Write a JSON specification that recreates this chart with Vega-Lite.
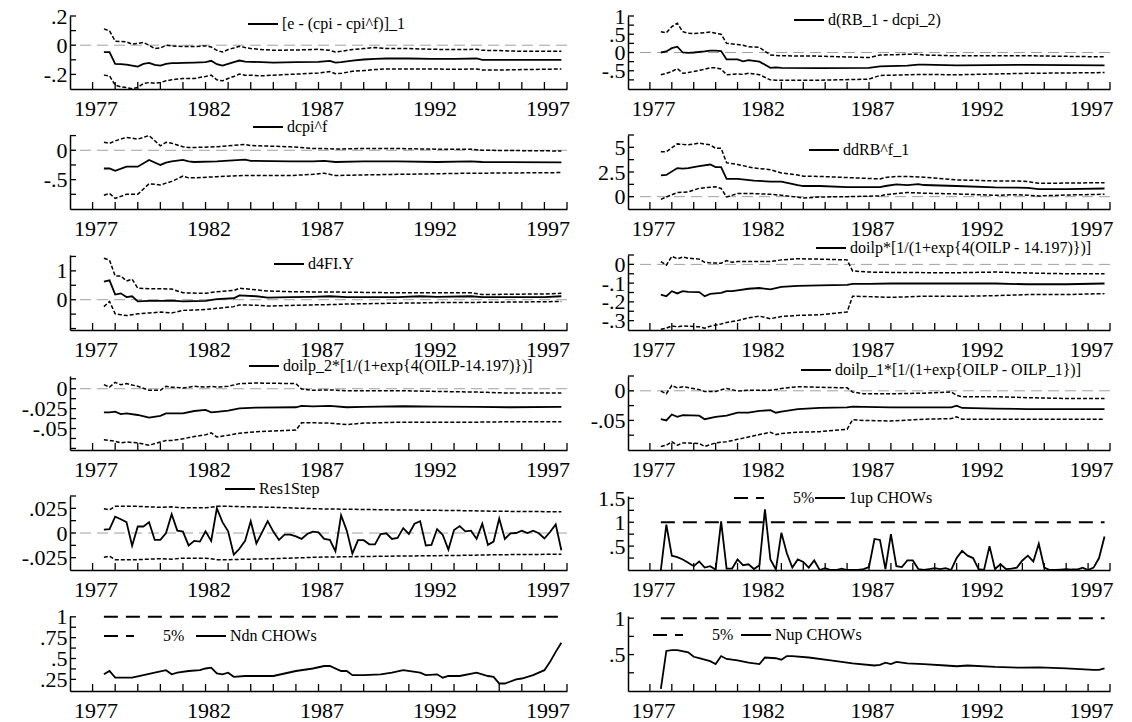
{
  "$schema": "https://vega.github.io/schema/vega-lite/v6.json",
  "background": "white",
  "padding": {"left": 21, "top": 4, "right": 4, "bottom": 4},
  "bounds": "flush",
  "columns": 2,
  "align": "each",
  "spacing": {"row": 46, "column": 61},
  "resolve": {
    "scale": {"x": "independent", "y": "independent", "color": "independent", "strokeDash": "independent"},
    "legend": {"color": "independent", "strokeDash": "independent"}
  },
  "config": {
    "view": {"stroke": null},
    "font": "Liberation Serif",
    "axis": {"grid": false, "domainColor": "black", "domainWidth": 1.5, "labelFont": "Liberation Serif", "labelFontSize": 22, "labelColor": "black", "labelOverlap": false, "labelFlush": false, "labelBound": false},
    "rule": {"color": "black", "strokeWidth": 1.3},
    "legend": {"orient": "none", "symbolType": "stroke", "symbolSize": 900, "symbolStrokeWidth": 2, "symbolStrokeColor": "black", "labelFont": "Liberation Serif", "labelFontSize": 16, "labelColor": "black", "labelOffset": 3, "labelLimit": 0, "padding": 0, "rowPadding": 0}
  },
  "concat": [
    {
      "width": 497, "height": 73,
      "resolve": {"axis": {"x": "independent", "y": "independent"}},
      "data": {"values": [
        {"t":1977.5,"c":-0.047,"u":0.112,"l":-0.205},{"t":1977.75,"c":-0.047,"u":0.098,"l":-0.21},{"t":1978.0,"c":-0.128,"u":0.028,"l":-0.274},{"t":1978.25,"c":-0.13,"u":0.025,"l":-0.285},{"t":1978.5,"c":-0.133,"u":0.023,"l":-0.29},{"t":1978.75,"c":-0.14,"u":0.007,"l":-0.298},{"t":1979.0,"c":-0.147,"u":0.012,"l":-0.29},{"t":1979.25,"c":-0.128,"u":0.019,"l":-0.263},{"t":1979.5,"c":-0.121,"u":0.0,"l":-0.256},{"t":1979.75,"c":-0.135,"u":-0.023,"l":-0.261},{"t":1980.0,"c":-0.14,"u":-0.019,"l":-0.256},{"t":1980.25,"c":-0.128,"u":0.0,"l":-0.244},{"t":1980.5,"c":-0.123,"u":-0.005,"l":-0.237},{"t":1980.75,"c":-0.123,"u":-0.007,"l":-0.232},{"t":1981.0,"c":-0.121,"u":-0.009,"l":-0.228},{"t":1981.5,"c":-0.119,"u":-0.009,"l":-0.228},{"t":1982.0,"c":-0.116,"u":-0.005,"l":-0.214},{"t":1982.25,"c":-0.107,"u":-0.012,"l":-0.205},{"t":1982.5,"c":-0.13,"u":-0.035,"l":-0.237},{"t":1982.75,"c":-0.14,"u":-0.047,"l":-0.244},{"t":1983.0,"c":-0.128,"u":-0.03,"l":-0.228},{"t":1983.25,"c":-0.116,"u":-0.019,"l":-0.214},{"t":1983.5,"c":-0.105,"u":-0.007,"l":-0.198},{"t":1983.75,"c":-0.112,"u":-0.016,"l":-0.205},{"t":1984.0,"c":-0.114,"u":-0.023,"l":-0.205},{"t":1984.5,"c":-0.116,"u":-0.03,"l":-0.21},{"t":1985.0,"c":-0.119,"u":-0.035,"l":-0.205},{"t":1986.0,"c":-0.116,"u":-0.033,"l":-0.198},{"t":1987.0,"c":-0.114,"u":-0.028,"l":-0.191},{"t":1987.5,"c":-0.107,"u":-0.035,"l":-0.181},{"t":1987.75,"c":-0.119,"u":-0.047,"l":-0.195},{"t":1988.0,"c":-0.116,"u":-0.042,"l":-0.193},{"t":1988.5,"c":-0.105,"u":-0.03,"l":-0.179},{"t":1989.0,"c":-0.098,"u":-0.023,"l":-0.174},{"t":1989.5,"c":-0.093,"u":-0.016,"l":-0.167},{"t":1990.0,"c":-0.091,"u":-0.023,"l":-0.163},{"t":1991.0,"c":-0.091,"u":-0.023,"l":-0.163},{"t":1992.0,"c":-0.093,"u":-0.028,"l":-0.163},{"t":1993.0,"c":-0.093,"u":-0.03,"l":-0.165},{"t":1994.0,"c":-0.091,"u":-0.028,"l":-0.163},{"t":1994.25,"c":-0.1,"u":-0.035,"l":-0.17},{"t":1995.0,"c":-0.1,"u":-0.037,"l":-0.17},{"t":1996.0,"c":-0.1,"u":-0.042,"l":-0.167},{"t":1997.75,"c":-0.1,"u":-0.042,"l":-0.163}
      ]},
      "layer": [
        {"data": {"values": [{}]}, "mark": {"type": "rule", "color": "#a0a0a0", "strokeDash": [11, 6], "strokeWidth": 1},
         "encoding": {"y": {"datum": 0, "type": "quantitative", "axis": null}}},
        {"mark": {"type": "line", "color": "black", "strokeWidth": 1.5, "strokeDash": [4, 2]},
         "encoding": {
           "x": {"field": "t", "type": "quantitative", "title": null, "scale": {"domain": [1976, 1998], "nice": false, "zero": false},
             "axis": {"orient": "bottom", "values": [1977, 1982, 1987, 1992, 1997], "format": "d", "ticks": false, "labelPadding": 9, "labelOffset": 3, "labelOverlap": false}},
           "y": {"field": "u", "type": "quantitative", "title": null, "scale": {"domain": [-0.3, 0.2], "nice": false, "zero": false},
             "axis": {"orient": "left", "values": [-0.2, 0, 0.2], "ticks": false, "labelPadding": 3, "labelOverlap": false, "labelExpr": "replace(toString(datum.value), '0.', '.')"}}}},
        {"mark": {"type": "line", "color": "black", "strokeWidth": 1.5, "strokeDash": [4, 2]},
         "encoding": {"x": {"field": "t", "type": "quantitative", "axis": null}, "y": {"field": "l", "type": "quantitative", "axis": null}}},
        {"data": {"values": [{"yr":1977},{"yr":1978},{"yr":1979},{"yr":1980},{"yr":1981},{"yr":1982},{"yr":1983},{"yr":1984},{"yr":1985},{"yr":1986},{"yr":1987},{"yr":1988},{"yr":1989},{"yr":1990},{"yr":1991},{"yr":1992},{"yr":1993},{"yr":1994},{"yr":1995},{"yr":1996},{"yr":1997},{"yr":1998}]},
         "mark": {"type": "rule"},
         "encoding": {"x": {"field": "yr", "type": "quantitative", "axis": null}, "y": {"datum": -0.3, "type": "quantitative", "axis": null}, "y2": {"datum": -0.252}}},
        {"data": {"values": [{"yv":-0.2},{"yv":-0.1},{"yv":0},{"yv":0.1},{"yv":0.2}]},
         "mark": {"type": "rule"},
         "encoding": {"y": {"field": "yv", "type": "quantitative", "axis": null}, "x": {"datum": 1976, "type": "quantitative", "axis": null}, "x2": {"datum": 1976.266}}},
        {"mark": {"type": "line", "strokeWidth": 1.8},
         "encoding": {"x": {"field": "t", "type": "quantitative", "axis": null}, "y": {"field": "c", "type": "quantitative", "axis": null},
           "color": {"datum": "[e - (cpi - cpi^f)]_1", "scale": {"range": ["black"]}, "legend": {"title": null, "legendX": 177, "legendY": -8}}}}
      ]
    },
    {
      "width": 482, "height": 73,
      "resolve": {"axis": {"x": "independent", "y": "independent"}},
      "data": {"values": [
        {"t":1977.5,"c":0.0,"u":0.57,"l":-0.61},{"t":1977.75,"c":0.03,"u":0.54,"l":-0.57},{"t":1978.0,"c":0.12,"u":0.71,"l":-0.52},{"t":1978.25,"c":0.16,"u":0.8,"l":-0.44},{"t":1978.5,"c":0.0,"u":0.57,"l":-0.57},{"t":1978.75,"c":-0.01,"u":0.53,"l":-0.55},{"t":1979.0,"c":0.0,"u":0.52,"l":-0.52},{"t":1979.5,"c":0.03,"u":0.54,"l":-0.46},{"t":1979.75,"c":0.05,"u":0.56,"l":-0.42},{"t":1980.0,"c":0.05,"u":0.53,"l":-0.42},{"t":1980.25,"c":0.04,"u":0.5,"l":-0.45},{"t":1980.5,"c":-0.19,"u":0.25,"l":-0.61},{"t":1981.0,"c":-0.19,"u":0.22,"l":-0.59},{"t":1981.25,"c":-0.24,"u":0.2,"l":-0.6},{"t":1981.5,"c":-0.21,"u":0.16,"l":-0.57},{"t":1982.0,"c":-0.25,"u":0.14,"l":-0.61},{"t":1982.5,"c":-0.42,"u":-0.07,"l":-0.75},{"t":1982.75,"c":-0.41,"u":-0.08,"l":-0.76},{"t":1983.0,"c":-0.42,"u":-0.09,"l":-0.76},{"t":1984.75,"c":-0.43,"u":-0.1,"l":-0.76},{"t":1987.0,"c":-0.42,"u":-0.14,"l":-0.73},{"t":1987.5,"c":-0.38,"u":-0.07,"l":-0.63},{"t":1988.75,"c":-0.36,"u":-0.05,"l":-0.61},{"t":1989.25,"c":-0.33,"u":-0.05,"l":-0.6},{"t":1989.5,"c":-0.33,"u":-0.07,"l":-0.6},{"t":1991.0,"c":-0.35,"u":-0.09,"l":-0.61},{"t":1994.25,"c":-0.34,"u":-0.09,"l":-0.57},{"t":1997.75,"c":-0.35,"u":-0.12,"l":-0.55}
      ]},
      "layer": [
        {"data": {"values": [{}]}, "mark": {"type": "rule", "color": "#a0a0a0", "strokeDash": [11, 6], "strokeWidth": 1},
         "encoding": {"y": {"datum": 0, "type": "quantitative", "axis": null}}},
        {"mark": {"type": "line", "color": "black", "strokeWidth": 1.5, "strokeDash": [4, 2]},
         "encoding": {
           "x": {"field": "t", "type": "quantitative", "title": null, "scale": {"domain": [1976, 1998], "nice": false, "zero": false},
             "axis": {"orient": "bottom", "values": [1977, 1982, 1987, 1992, 1997], "format": "d", "ticks": false, "labelPadding": 9, "labelOffset": 3, "labelOverlap": false}},
           "y": {"field": "u", "type": "quantitative", "title": null, "scale": {"domain": [-1.0, 1.0], "nice": false, "zero": false},
             "axis": {"orient": "left", "values": [-0.5, 0, 0.5, 1], "ticks": false, "labelPadding": 3, "labelOverlap": false, "labelExpr": "replace(toString(datum.value), '0.', '.')"}}}},
        {"mark": {"type": "line", "color": "black", "strokeWidth": 1.5, "strokeDash": [4, 2]},
         "encoding": {"x": {"field": "t", "type": "quantitative", "axis": null}, "y": {"field": "l", "type": "quantitative", "axis": null}}},
        {"data": {"values": [{"yr":1977},{"yr":1978},{"yr":1979},{"yr":1980},{"yr":1981},{"yr":1982},{"yr":1983},{"yr":1984},{"yr":1985},{"yr":1986},{"yr":1987},{"yr":1988},{"yr":1989},{"yr":1990},{"yr":1991},{"yr":1992},{"yr":1993},{"yr":1994},{"yr":1995},{"yr":1996},{"yr":1997},{"yr":1998}]},
         "mark": {"type": "rule"},
         "encoding": {"x": {"field": "yr", "type": "quantitative", "axis": null}, "y": {"datum": -1.0, "type": "quantitative", "axis": null}, "y2": {"datum": -0.808}}},
        {"data": {"values": [{"yv":-0.75},{"yv":-0.5},{"yv":-0.25},{"yv":0},{"yv":0.25},{"yv":0.5},{"yv":0.75},{"yv":1}]},
         "mark": {"type": "rule"},
         "encoding": {"y": {"field": "yv", "type": "quantitative", "axis": null}, "x": {"datum": 1976, "type": "quantitative", "axis": null}, "x2": {"datum": 1976.274}}},
        {"mark": {"type": "line", "strokeWidth": 1.8},
         "encoding": {"x": {"field": "t", "type": "quantitative", "axis": null}, "y": {"field": "c", "type": "quantitative", "axis": null},
           "color": {"datum": "d(RB_1 - dcpi_2)", "scale": {"range": ["black"]}, "legend": {"title": null, "legendX": 165, "legendY": -12}}}}
      ]
    },
    {
      "width": 497, "height": 74,
      "resolve": {"axis": {"x": "independent", "y": "independent"}},
      "data": {"values": [
        {"t":1977.5,"c":-0.31,"u":0.135,"l":-0.765},{"t":1977.75,"c":-0.31,"u":0.118,"l":-0.735},{"t":1978.0,"c":-0.35,"u":0.16,"l":-0.82},{"t":1978.5,"c":-0.28,"u":0.22,"l":-0.75},{"t":1979.0,"c":-0.28,"u":0.19,"l":-0.75},{"t":1979.5,"c":-0.165,"u":0.25,"l":-0.57},{"t":1980.0,"c":-0.25,"u":0.076,"l":-0.59},{"t":1980.25,"c":-0.21,"u":0.135,"l":-0.56},{"t":1980.5,"c":-0.19,"u":0.12,"l":-0.53},{"t":1981.0,"c":-0.165,"u":0.06,"l":-0.44},{"t":1981.25,"c":-0.19,"u":0.047,"l":-0.47},{"t":1981.5,"c":-0.2,"u":0.047,"l":-0.47},{"t":1982.5,"c":-0.19,"u":0.06,"l":-0.45},{"t":1983.75,"c":-0.16,"u":0.1,"l":-0.43},{"t":1984.0,"c":-0.18,"u":0.08,"l":-0.43},{"t":1985.75,"c":-0.19,"u":0.06,"l":-0.43},{"t":1986.75,"c":-0.19,"u":0.03,"l":-0.41},{"t":1987.25,"c":-0.18,"u":0.03,"l":-0.39},{"t":1987.75,"c":-0.2,"u":0.02,"l":-0.43},{"t":1989.0,"c":-0.19,"u":0.03,"l":-0.42},{"t":1990.5,"c":-0.19,"u":0.03,"l":-0.41},{"t":1992.25,"c":-0.2,"u":0.018,"l":-0.4},{"t":1993.75,"c":-0.19,"u":0.018,"l":-0.39},{"t":1994.25,"c":-0.2,"u":0.0,"l":-0.39},{"t":1997.75,"c":-0.206,"u":-0.012,"l":-0.38}
      ]},
      "layer": [
        {"data": {"values": [{}]}, "mark": {"type": "rule", "color": "#a0a0a0", "strokeDash": [11, 6], "strokeWidth": 1},
         "encoding": {"y": {"datum": 0, "type": "quantitative", "axis": null}}},
        {"mark": {"type": "line", "color": "black", "strokeWidth": 1.5, "strokeDash": [4, 2]},
         "encoding": {
           "x": {"field": "t", "type": "quantitative", "title": null, "scale": {"domain": [1976, 1998], "nice": false, "zero": false},
             "axis": {"orient": "bottom", "values": [1977, 1982, 1987, 1992, 1997], "format": "d", "ticks": false, "labelPadding": 9, "labelOffset": 3, "labelOverlap": false}},
           "y": {"field": "u", "type": "quantitative", "title": null, "scale": {"domain": [-1.0, 0.26], "nice": false, "zero": false},
             "axis": {"orient": "left", "values": [-0.5, 0], "ticks": false, "labelPadding": 3, "labelOverlap": false, "labelExpr": "replace(toString(datum.value), '0.', '.')"}}}},
        {"mark": {"type": "line", "color": "black", "strokeWidth": 1.5, "strokeDash": [4, 2]},
         "encoding": {"x": {"field": "t", "type": "quantitative", "axis": null}, "y": {"field": "l", "type": "quantitative", "axis": null}}},
        {"data": {"values": [{"yr":1977},{"yr":1978},{"yr":1979},{"yr":1980},{"yr":1981},{"yr":1982},{"yr":1983},{"yr":1984},{"yr":1985},{"yr":1986},{"yr":1987},{"yr":1988},{"yr":1989},{"yr":1990},{"yr":1991},{"yr":1992},{"yr":1993},{"yr":1994},{"yr":1995},{"yr":1996},{"yr":1997},{"yr":1998}]},
         "mark": {"type": "rule"},
         "encoding": {"x": {"field": "yr", "type": "quantitative", "axis": null}, "y": {"datum": -1.0, "type": "quantitative", "axis": null}, "y2": {"datum": -0.881}}},
        {"data": {"values": [{"yv":-0.75},{"yv":-0.5},{"yv":-0.25},{"yv":0},{"yv":0.25}]},
         "mark": {"type": "rule"},
         "encoding": {"y": {"field": "yv", "type": "quantitative", "axis": null}, "x": {"datum": 1976, "type": "quantitative", "axis": null}, "x2": {"datum": 1976.266}}},
        {"mark": {"type": "line", "strokeWidth": 1.8},
         "encoding": {"x": {"field": "t", "type": "quantitative", "axis": null}, "y": {"field": "c", "type": "quantitative", "axis": null},
           "color": {"datum": "dcpi^f", "scale": {"range": ["black"]}, "legend": {"title": null, "legendX": 182, "legendY": -24}}}}
      ]
    },
    {
      "width": 482, "height": 74,
      "resolve": {"axis": {"x": "independent", "y": "independent"}},
      "data": {"values": [
        {"t":1977.5,"c":2.15,"u":4.55,"l":-0.28},{"t":1977.75,"c":2.2,"u":4.55,"l":-0.03},{"t":1978.25,"c":2.9,"u":5.35,"l":0.42},{"t":1978.5,"c":2.85,"u":5.3,"l":0.45},{"t":1978.75,"c":2.9,"u":5.25,"l":0.49},{"t":1979.25,"c":3.1,"u":5.42,"l":0.85},{"t":1979.75,"c":3.26,"u":5.25,"l":0.95},{"t":1980.0,"c":3.0,"u":4.9,"l":1.0},{"t":1980.25,"c":3.0,"u":4.9,"l":0.83},{"t":1980.5,"c":1.8,"u":3.44,"l":-0.03},{"t":1981.0,"c":1.8,"u":3.26,"l":0.31},{"t":1981.75,"c":1.63,"u":2.9,"l":0.31},{"t":1982.5,"c":1.53,"u":2.74,"l":0.24},{"t":1983.0,"c":1.53,"u":2.4,"l":0.14},{"t":1983.75,"c":1.18,"u":2.2,"l":-0.05},{"t":1984.0,"c":1.08,"u":2.08,"l":-0.14},{"t":1984.75,"c":1.08,"u":2.05,"l":-0.03},{"t":1986.0,"c":0.97,"u":1.94,"l":0.0},{"t":1987.5,"c":0.97,"u":1.8,"l":0.07},{"t":1987.75,"c":1.08,"u":1.95,"l":0.2},{"t":1988.25,"c":1.25,"u":2.05,"l":0.31},{"t":1988.75,"c":1.18,"u":2.05,"l":0.42},{"t":1989.25,"c":1.28,"u":2.0,"l":0.38},{"t":1989.5,"c":1.18,"u":1.98,"l":0.35},{"t":1991.0,"c":1.08,"u":1.7,"l":0.28},{"t":1992.75,"c":0.94,"u":1.6,"l":0.14},{"t":1993.75,"c":0.92,"u":1.58,"l":0.2},{"t":1994.25,"c":0.9,"u":1.53,"l":0.14},{"t":1994.75,"c":0.76,"u":1.35,"l":0.07},{"t":1996.0,"c":0.76,"u":1.38,"l":0.17},{"t":1997.75,"c":0.83,"u":1.42,"l":0.24}
      ]},
      "layer": [
        {"data": {"values": [{}]}, "mark": {"type": "rule", "color": "#a0a0a0", "strokeDash": [11, 6], "strokeWidth": 1},
         "encoding": {"y": {"datum": 0, "type": "quantitative", "axis": null}}},
        {"mark": {"type": "line", "color": "black", "strokeWidth": 1.5, "strokeDash": [4, 2]},
         "encoding": {
           "x": {"field": "t", "type": "quantitative", "title": null, "scale": {"domain": [1976, 1998], "nice": false, "zero": false},
             "axis": {"orient": "bottom", "values": [1977, 1982, 1987, 1992, 1997], "format": "d", "ticks": false, "labelPadding": 9, "labelOffset": 3, "labelOverlap": false}},
           "y": {"field": "u", "type": "quantitative", "title": null, "scale": {"domain": [-1.25, 6.25], "nice": false, "zero": false},
             "axis": {"orient": "left", "values": [0, 2.5, 5], "ticks": false, "labelPadding": 3, "labelOverlap": false, "labelExpr": "replace(toString(datum.value), '0.', '.')"}}}},
        {"mark": {"type": "line", "color": "black", "strokeWidth": 1.5, "strokeDash": [4, 2]},
         "encoding": {"x": {"field": "t", "type": "quantitative", "axis": null}, "y": {"field": "l", "type": "quantitative", "axis": null}}},
        {"data": {"values": [{"yr":1977},{"yr":1978},{"yr":1979},{"yr":1980},{"yr":1981},{"yr":1982},{"yr":1983},{"yr":1984},{"yr":1985},{"yr":1986},{"yr":1987},{"yr":1988},{"yr":1989},{"yr":1990},{"yr":1991},{"yr":1992},{"yr":1993},{"yr":1994},{"yr":1995},{"yr":1996},{"yr":1997},{"yr":1998}]},
         "mark": {"type": "rule"},
         "encoding": {"x": {"field": "yr", "type": "quantitative", "axis": null}, "y": {"datum": -1.25, "type": "quantitative", "axis": null}, "y2": {"datum": -0.541}}},
        {"data": {"values": [{"yv":0},{"yv":1.25},{"yv":2.5},{"yv":3.75},{"yv":5},{"yv":6.25}]},
         "mark": {"type": "rule"},
         "encoding": {"y": {"field": "yv", "type": "quantitative", "axis": null}, "x": {"datum": 1976, "type": "quantitative", "axis": null}, "x2": {"datum": 1976.274}}},
        {"mark": {"type": "line", "strokeWidth": 1.8},
         "encoding": {"x": {"field": "t", "type": "quantitative", "axis": null}, "y": {"field": "c", "type": "quantitative", "axis": null},
           "color": {"datum": "ddRB^f_1", "scale": {"range": ["black"]}, "legend": {"title": null, "legendX": 180, "legendY": -1}}}}
      ]
    },
    {
      "width": 497, "height": 75,
      "resolve": {"axis": {"x": "independent", "y": "independent"}},
      "data": {"values": [
        {"t":1977.5,"c":0.63,"u":1.44,"l":-0.24},{"t":1977.75,"c":0.67,"u":1.37,"l":-0.06},{"t":1978.0,"c":0.18,"u":0.82,"l":-0.49},{"t":1978.25,"c":0.22,"u":0.82,"l":-0.52},{"t":1978.5,"c":0.09,"u":0.65,"l":-0.55},{"t":1978.75,"c":0.12,"u":0.71,"l":-0.52},{"t":1979.0,"c":-0.06,"u":0.4,"l":-0.49},{"t":1979.5,"c":-0.04,"u":0.38,"l":-0.46},{"t":1980.0,"c":-0.04,"u":0.38,"l":-0.43},{"t":1980.5,"c":-0.03,"u":0.37,"l":-0.46},{"t":1981.0,"c":-0.06,"u":0.24,"l":-0.37},{"t":1982.0,"c":-0.04,"u":0.22,"l":-0.34},{"t":1982.5,"c":0.02,"u":0.28,"l":-0.3},{"t":1983.25,"c":0.05,"u":0.32,"l":-0.24},{"t":1983.5,"c":0.15,"u":0.4,"l":-0.18},{"t":1984.25,"c":0.12,"u":0.34,"l":-0.19},{"t":1984.75,"c":0.07,"u":0.3,"l":-0.22},{"t":1985.75,"c":0.09,"u":0.28,"l":-0.2},{"t":1986.75,"c":0.1,"u":0.27,"l":-0.18},{"t":1987.5,"c":0.12,"u":0.27,"l":-0.17},{"t":1988.25,"c":0.09,"u":0.26,"l":-0.15},{"t":1990.5,"c":0.09,"u":0.24,"l":-0.12},{"t":1991.5,"c":0.12,"u":0.24,"l":-0.11},{"t":1992.25,"c":0.1,"u":0.24,"l":-0.1},{"t":1993.75,"c":0.12,"u":0.24,"l":-0.1},{"t":1994.25,"c":0.09,"u":0.18,"l":-0.09},{"t":1997.0,"c":0.09,"u":0.2,"l":-0.07},{"t":1997.75,"c":0.12,"u":0.22,"l":-0.06}
      ]},
      "layer": [
        {"data": {"values": [{}]}, "mark": {"type": "rule", "color": "#a0a0a0", "strokeDash": [11, 6], "strokeWidth": 1},
         "encoding": {"y": {"datum": 0, "type": "quantitative", "axis": null}}},
        {"mark": {"type": "line", "color": "black", "strokeWidth": 1.5, "strokeDash": [4, 2]},
         "encoding": {
           "x": {"field": "t", "type": "quantitative", "title": null, "scale": {"domain": [1976, 1998], "nice": false, "zero": false},
             "axis": {"orient": "bottom", "values": [1977, 1982, 1987, 1992, 1997], "format": "d", "ticks": false, "labelPadding": 9, "labelOffset": 3, "labelOverlap": false}},
           "y": {"field": "u", "type": "quantitative", "title": null, "scale": {"domain": [-1.05, 1.55], "nice": false, "zero": false},
             "axis": {"orient": "left", "values": [0, 1], "ticks": false, "labelPadding": 3, "labelOverlap": false, "labelExpr": "replace(toString(datum.value), '0.', '.')"}}}},
        {"mark": {"type": "line", "color": "black", "strokeWidth": 1.5, "strokeDash": [4, 2]},
         "encoding": {"x": {"field": "t", "type": "quantitative", "axis": null}, "y": {"field": "l", "type": "quantitative", "axis": null}}},
        {"data": {"values": [{"yr":1977},{"yr":1978},{"yr":1979},{"yr":1980},{"yr":1981},{"yr":1982},{"yr":1983},{"yr":1984},{"yr":1985},{"yr":1986},{"yr":1987},{"yr":1988},{"yr":1989},{"yr":1990},{"yr":1991},{"yr":1992},{"yr":1993},{"yr":1994},{"yr":1995},{"yr":1996},{"yr":1997},{"yr":1998}]},
         "mark": {"type": "rule"},
         "encoding": {"x": {"field": "yr", "type": "quantitative", "axis": null}, "y": {"datum": -1.05, "type": "quantitative", "axis": null}, "y2": {"datum": -0.807}}},
        {"data": {"values": [{"yv":-1},{"yv":-0.5},{"yv":0},{"yv":0.5},{"yv":1},{"yv":1.5}]},
         "mark": {"type": "rule"},
         "encoding": {"y": {"field": "yv", "type": "quantitative", "axis": null}, "x": {"datum": 1976, "type": "quantitative", "axis": null}, "x2": {"datum": 1976.266}}},
        {"mark": {"type": "line", "strokeWidth": 1.8},
         "encoding": {"x": {"field": "t", "type": "quantitative", "axis": null}, "y": {"field": "c", "type": "quantitative", "axis": null},
           "color": {"datum": "d4FI.Y", "scale": {"range": ["black"]}, "legend": {"title": null, "legendX": 203, "legendY": -7}}}}
      ]
    },
    {
      "width": 482, "height": 75,
      "resolve": {"axis": {"x": "independent", "y": "independent"}},
      "data": {"values": [
        {"t":1977.5,"c":-0.161,"u":0.015,"l":-0.346},{"t":1977.75,"c":-0.17,"u":-0.004,"l":-0.34},{"t":1978.0,"c":-0.143,"u":0.043,"l":-0.328},{"t":1978.25,"c":-0.155,"u":0.03,"l":-0.333},{"t":1978.5,"c":-0.143,"u":0.039,"l":-0.328},{"t":1978.75,"c":-0.147,"u":0.033,"l":-0.33},{"t":1979.25,"c":-0.148,"u":0.028,"l":-0.333},{"t":1979.5,"c":-0.17,"u":0.011,"l":-0.34},{"t":1979.75,"c":-0.157,"u":0.008,"l":-0.33},{"t":1980.25,"c":-0.152,"u":0.006,"l":-0.318},{"t":1980.5,"c":-0.143,"u":0.02,"l":-0.31},{"t":1980.75,"c":-0.143,"u":0.011,"l":-0.305},{"t":1981.0,"c":-0.139,"u":0.015,"l":-0.3},{"t":1981.5,"c":-0.13,"u":0.015,"l":-0.285},{"t":1982.0,"c":-0.126,"u":0.015,"l":-0.276},{"t":1982.5,"c":-0.133,"u":0.015,"l":-0.29},{"t":1983.0,"c":-0.12,"u":0.024,"l":-0.278},{"t":1983.75,"c":-0.115,"u":0.03,"l":-0.272},{"t":1984.75,"c":-0.112,"u":0.028,"l":-0.269},{"t":1986.0,"c":-0.109,"u":0.024,"l":-0.254},{"t":1986.25,"c":-0.104,"u":-0.035,"l":-0.17},{"t":1987.0,"c":-0.104,"u":-0.041,"l":-0.172},{"t":1988.0,"c":-0.102,"u":-0.043,"l":-0.176},{"t":1989.5,"c":-0.102,"u":-0.044,"l":-0.17},{"t":1991.25,"c":-0.102,"u":-0.044,"l":-0.17},{"t":1992.75,"c":-0.102,"u":-0.041,"l":-0.167},{"t":1994.25,"c":-0.106,"u":-0.046,"l":-0.161},{"t":1996.0,"c":-0.106,"u":-0.05,"l":-0.161},{"t":1997.75,"c":-0.102,"u":-0.05,"l":-0.156}
      ]},
      "layer": [
        {"data": {"values": [{}]}, "mark": {"type": "rule", "color": "#a0a0a0", "strokeDash": [11, 6], "strokeWidth": 1},
         "encoding": {"y": {"datum": 0, "type": "quantitative", "axis": null}}},
        {"mark": {"type": "line", "color": "black", "strokeWidth": 1.5, "strokeDash": [4, 2]},
         "encoding": {
           "x": {"field": "t", "type": "quantitative", "title": null, "scale": {"domain": [1976, 1998], "nice": false, "zero": false},
             "axis": {"orient": "bottom", "values": [1977, 1982, 1987, 1992, 1997], "format": "d", "ticks": false, "labelPadding": 9, "labelOffset": 3, "labelOverlap": false}},
           "y": {"field": "u", "type": "quantitative", "title": null, "scale": {"domain": [-0.35, 0.05], "nice": false, "zero": false},
             "axis": {"orient": "left", "values": [-0.3, -0.2, -0.1, 0], "ticks": false, "labelPadding": 3, "labelOverlap": false, "labelExpr": "replace(toString(datum.value), '0.', '.')"}}}},
        {"mark": {"type": "line", "color": "black", "strokeWidth": 1.5, "strokeDash": [4, 2]},
         "encoding": {"x": {"field": "t", "type": "quantitative", "axis": null}, "y": {"field": "l", "type": "quantitative", "axis": null}}},
        {"data": {"values": [{"yr":1977},{"yr":1978},{"yr":1979},{"yr":1980},{"yr":1981},{"yr":1982},{"yr":1983},{"yr":1984},{"yr":1985},{"yr":1986},{"yr":1987},{"yr":1988},{"yr":1989},{"yr":1990},{"yr":1991},{"yr":1992},{"yr":1993},{"yr":1994},{"yr":1995},{"yr":1996},{"yr":1997},{"yr":1998}]},
         "mark": {"type": "rule"},
         "encoding": {"x": {"field": "yr", "type": "quantitative", "axis": null}, "y": {"datum": -0.35, "type": "quantitative", "axis": null}, "y2": {"datum": -0.3127}}},
        {"data": {"values": [{"yv":-0.3},{"yv":-0.25},{"yv":-0.2},{"yv":-0.15},{"yv":-0.1},{"yv":-0.05},{"yv":0},{"yv":0.05}]},
         "mark": {"type": "rule"},
         "encoding": {"y": {"field": "yv", "type": "quantitative", "axis": null}, "x": {"datum": 1976, "type": "quantitative", "axis": null}, "x2": {"datum": 1976.274}}},
        {"mark": {"type": "line", "strokeWidth": 1.8},
         "encoding": {"x": {"field": "t", "type": "quantitative", "axis": null}, "y": {"field": "c", "type": "quantitative", "axis": null},
           "color": {"datum": "doilp*[1/(1+exp{4(OILP - 14.197)})]", "scale": {"range": ["black"]}, "legend": {"title": null, "legendX": 187, "legendY": -23}}}}
      ]
    },
    {
      "width": 497, "height": 74,
      "resolve": {"axis": {"x": "independent", "y": "independent"}},
      "data": {"values": [
        {"t":1977.5,"c":-0.0297,"u":0.0051,"l":-0.064},{"t":1977.75,"c":-0.0297,"u":0.002,"l":-0.065},{"t":1978.0,"c":-0.0288,"u":0.008,"l":-0.066},{"t":1978.25,"c":-0.0318,"u":0.005,"l":-0.068},{"t":1978.5,"c":-0.031,"u":0.0064,"l":-0.067},{"t":1979.0,"c":-0.033,"u":0.003,"l":-0.068},{"t":1979.5,"c":-0.0364,"u":-0.002,"l":-0.071},{"t":1980.0,"c":-0.034,"u":-0.002,"l":-0.067},{"t":1980.25,"c":-0.031,"u":0.003,"l":-0.065},{"t":1980.5,"c":-0.031,"u":0.002,"l":-0.065},{"t":1981.0,"c":-0.031,"u":0.001,"l":-0.063},{"t":1981.5,"c":-0.028,"u":0.003,"l":-0.06},{"t":1982.0,"c":-0.0267,"u":0.002,"l":-0.058},{"t":1982.25,"c":-0.0297,"u":0.003,"l":-0.0555},{"t":1982.5,"c":-0.029,"u":0.002,"l":-0.0606},{"t":1983.0,"c":-0.0275,"u":0.003,"l":-0.0585},{"t":1983.5,"c":-0.0246,"u":0.0064,"l":-0.056},{"t":1984.25,"c":-0.0237,"u":0.0072,"l":-0.054},{"t":1986.0,"c":-0.0233,"u":0.0064,"l":-0.052},{"t":1986.25,"c":-0.0216,"u":-0.0004,"l":-0.0428},{"t":1986.75,"c":-0.0222,"u":-0.002,"l":-0.0428},{"t":1987.5,"c":-0.0216,"u":-0.0015,"l":-0.0432},{"t":1988.25,"c":-0.0233,"u":-0.0025,"l":-0.045},{"t":1989.0,"c":-0.0229,"u":-0.0025,"l":-0.0432},{"t":1990.75,"c":-0.022,"u":-0.0025,"l":-0.042},{"t":1992.25,"c":-0.0224,"u":-0.0034,"l":-0.042},{"t":1994.0,"c":-0.0229,"u":-0.0042,"l":-0.042},{"t":1995.5,"c":-0.0233,"u":-0.0055,"l":-0.0415},{"t":1997.75,"c":-0.0229,"u":-0.0055,"l":-0.0415}
      ]},
      "layer": [
        {"data": {"values": [{}]}, "mark": {"type": "rule", "color": "#a0a0a0", "strokeDash": [11, 6], "strokeWidth": 1},
         "encoding": {"y": {"datum": 0, "type": "quantitative", "axis": null}}},
        {"mark": {"type": "line", "color": "black", "strokeWidth": 1.5, "strokeDash": [4, 2]},
         "encoding": {
           "x": {"field": "t", "type": "quantitative", "title": null, "scale": {"domain": [1976, 1998], "nice": false, "zero": false},
             "axis": {"orient": "bottom", "values": [1977, 1982, 1987, 1992, 1997], "format": "d", "ticks": false, "labelPadding": 9, "labelOffset": 3, "labelOverlap": false}},
           "y": {"field": "u", "type": "quantitative", "title": null, "scale": {"domain": [-0.077, 0.016], "nice": false, "zero": false},
             "axis": {"orient": "left", "values": [-0.05, -0.025, 0], "ticks": false, "labelPadding": 3, "labelOverlap": false, "labelExpr": "replace(toString(datum.value), '0.', '.')"}}}},
        {"mark": {"type": "line", "color": "black", "strokeWidth": 1.5, "strokeDash": [4, 2]},
         "encoding": {"x": {"field": "t", "type": "quantitative", "axis": null}, "y": {"field": "l", "type": "quantitative", "axis": null}}},
        {"data": {"values": [{"yr":1977},{"yr":1978},{"yr":1979},{"yr":1980},{"yr":1981},{"yr":1982},{"yr":1983},{"yr":1984},{"yr":1985},{"yr":1986},{"yr":1987},{"yr":1988},{"yr":1989},{"yr":1990},{"yr":1991},{"yr":1992},{"yr":1993},{"yr":1994},{"yr":1995},{"yr":1996},{"yr":1997},{"yr":1998}]},
         "mark": {"type": "rule"},
         "encoding": {"x": {"field": "yr", "type": "quantitative", "axis": null}, "y": {"datum": -0.077, "type": "quantitative", "axis": null}, "y2": {"datum": -0.0682}}},
        {"data": {"values": [{"yv":-0.075},{"yv":-0.0625},{"yv":-0.05},{"yv":-0.0375},{"yv":-0.025},{"yv":-0.0125},{"yv":0},{"yv":0.0125}]},
         "mark": {"type": "rule"},
         "encoding": {"y": {"field": "yv", "type": "quantitative", "axis": null}, "x": {"datum": 1976, "type": "quantitative", "axis": null}, "x2": {"datum": 1976.266}}},
        {"mark": {"type": "line", "strokeWidth": 1.8},
         "encoding": {"x": {"field": "t", "type": "quantitative", "axis": null}, "y": {"field": "c", "type": "quantitative", "axis": null},
           "color": {"datum": "doilp_2*[1/(1+exp{4(OILP-14.197)})]", "scale": {"range": ["black"]}, "legend": {"title": null, "legendX": 178, "legendY": -26}}}}
      ]
    },
    {
      "width": 482, "height": 74,
      "resolve": {"axis": {"x": "independent", "y": "independent"}},
      "data": {"values": [
        {"t":1977.5,"c":-0.048,"u":-0.0006,"l":-0.094},{"t":1977.75,"c":-0.05,"u":-0.005,"l":-0.092},{"t":1978.0,"c":-0.04,"u":0.009,"l":-0.086},{"t":1978.25,"c":-0.044,"u":0.005,"l":-0.092},{"t":1978.5,"c":-0.041,"u":0.007,"l":-0.088},{"t":1979.25,"c":-0.042,"u":0.002,"l":-0.089},{"t":1979.5,"c":-0.048,"u":-0.001,"l":-0.094},{"t":1980.0,"c":-0.044,"u":-0.001,"l":-0.088},{"t":1980.5,"c":-0.042,"u":0.004,"l":-0.086},{"t":1981.0,"c":-0.037,"u":-0.0003,"l":-0.082},{"t":1981.5,"c":-0.037,"u":0.001,"l":-0.078},{"t":1982.0,"c":-0.034,"u":0.001,"l":-0.074},{"t":1982.5,"c":-0.0326,"u":0.001,"l":-0.07},{"t":1982.75,"c":-0.037,"u":0.002,"l":-0.074},{"t":1983.0,"c":-0.035,"u":0.004,"l":-0.072},{"t":1983.75,"c":-0.031,"u":0.007,"l":-0.07},{"t":1984.75,"c":-0.029,"u":0.006,"l":-0.069},{"t":1986.0,"c":-0.028,"u":0.005,"l":-0.065},{"t":1986.25,"c":-0.0267,"u":-0.002,"l":-0.049},{"t":1986.75,"c":-0.027,"u":-0.005,"l":-0.05},{"t":1988.0,"c":-0.028,"u":-0.005,"l":-0.051},{"t":1989.5,"c":-0.028,"u":-0.004,"l":-0.048},{"t":1990.75,"c":-0.028,"u":-0.002,"l":-0.047},{"t":1991.0,"c":-0.025,"u":-0.0076,"l":-0.044},{"t":1991.25,"c":-0.029,"u":-0.01,"l":-0.048},{"t":1992.75,"c":-0.03,"u":-0.01,"l":-0.048},{"t":1994.25,"c":-0.031,"u":-0.0116,"l":-0.048},{"t":1996.0,"c":-0.031,"u":-0.013,"l":-0.048},{"t":1997.75,"c":-0.031,"u":-0.013,"l":-0.048}
      ]},
      "layer": [
        {"data": {"values": [{}]}, "mark": {"type": "rule", "color": "#a0a0a0", "strokeDash": [11, 6], "strokeWidth": 1},
         "encoding": {"y": {"datum": 0, "type": "quantitative", "axis": null}}},
        {"mark": {"type": "line", "color": "black", "strokeWidth": 1.5, "strokeDash": [4, 2]},
         "encoding": {
           "x": {"field": "t", "type": "quantitative", "title": null, "scale": {"domain": [1976, 1998], "nice": false, "zero": false},
             "axis": {"orient": "bottom", "values": [1977, 1982, 1987, 1992, 1997], "format": "d", "ticks": false, "labelPadding": 9, "labelOffset": 3, "labelOverlap": false}},
           "y": {"field": "u", "type": "quantitative", "title": null, "scale": {"domain": [-0.1, 0.025], "nice": false, "zero": false},
             "axis": {"orient": "left", "values": [-0.05, 0], "ticks": false, "labelPadding": 3, "labelOverlap": false, "labelExpr": "replace(toString(datum.value), '0.', '.')"}}}},
        {"mark": {"type": "line", "color": "black", "strokeWidth": 1.5, "strokeDash": [4, 2]},
         "encoding": {"x": {"field": "t", "type": "quantitative", "axis": null}, "y": {"field": "l", "type": "quantitative", "axis": null}}},
        {"data": {"values": [{"yr":1977},{"yr":1978},{"yr":1979},{"yr":1980},{"yr":1981},{"yr":1982},{"yr":1983},{"yr":1984},{"yr":1985},{"yr":1986},{"yr":1987},{"yr":1988},{"yr":1989},{"yr":1990},{"yr":1991},{"yr":1992},{"yr":1993},{"yr":1994},{"yr":1995},{"yr":1996},{"yr":1997},{"yr":1998}]},
         "mark": {"type": "rule"},
         "encoding": {"x": {"field": "yr", "type": "quantitative", "axis": null}, "y": {"datum": -0.1, "type": "quantitative", "axis": null}, "y2": {"datum": -0.0882}}},
        {"data": {"values": [{"yv":-0.075},{"yv":-0.05},{"yv":-0.025},{"yv":0},{"yv":0.025}]},
         "mark": {"type": "rule"},
         "encoding": {"y": {"field": "yv", "type": "quantitative", "axis": null}, "x": {"datum": 1976, "type": "quantitative", "axis": null}, "x2": {"datum": 1976.274}}},
        {"mark": {"type": "line", "strokeWidth": 1.8},
         "encoding": {"x": {"field": "t", "type": "quantitative", "axis": null}, "y": {"field": "c", "type": "quantitative", "axis": null},
           "color": {"datum": "doilp_1*[1/(1+exp{OILP - OILP_1})]", "scale": {"range": ["black"]}, "legend": {"title": null, "legendX": 172, "legendY": -22}}}}
      ]
    },
    {
      "width": 497, "height": 74,
      "resolve": {"axis": {"x": "independent", "y": "independent"}},
      "data": {"values": [
        {"t":1977.5,"u":0.0245,"l":-0.0245},{"t":1977.75,"u":0.0235,"l":-0.0235},{"t":1978.0,"u":0.027,"l":-0.027},{"t":1979.0,"u":0.027,"l":-0.027},{"t":1980.0,"u":0.026,"l":-0.026},{"t":1980.5,"u":0.0265,"l":-0.0265},{"t":1981.0,"u":0.0255,"l":-0.0255},{"t":1982.0,"u":0.0255,"l":-0.0255},{"t":1982.5,"u":0.027,"l":-0.027},{"t":1983.0,"u":0.027,"l":-0.027},{"t":1985.0,"u":0.026,"l":-0.026},{"t":1987.0,"u":0.0245,"l":-0.0245},{"t":1990.0,"u":0.0235,"l":-0.0235},{"t":1993.0,"u":0.0228,"l":-0.0228},{"t":1995.0,"u":0.022,"l":-0.022},{"t":1997.75,"u":0.0215,"l":-0.0215}
      ]},
      "layer": [
        {"data": {"values": [{}]}, "mark": {"type": "rule", "color": "#a0a0a0", "strokeDash": [11, 6], "strokeWidth": 1},
         "encoding": {"y": {"datum": 0, "type": "quantitative", "axis": null}}},
        {"mark": {"type": "line", "color": "black", "strokeWidth": 1.5, "strokeDash": [4, 2]},
         "encoding": {
           "x": {"field": "t", "type": "quantitative", "title": null, "scale": {"domain": [1976, 1998], "nice": false, "zero": false},
             "axis": {"orient": "bottom", "values": [1977, 1982, 1987, 1992, 1997], "format": "d", "ticks": false, "labelPadding": 9, "labelOffset": 3, "labelOverlap": false}},
           "y": {"field": "u", "type": "quantitative", "title": null, "scale": {"domain": [-0.0375, 0.0375], "nice": false, "zero": false},
             "axis": {"orient": "left", "values": [-0.025, 0, 0.025], "ticks": false, "labelPadding": 3, "labelOverlap": false, "labelExpr": "replace(toString(datum.value), '0.', '.')"}}}},
        {"mark": {"type": "line", "color": "black", "strokeWidth": 1.5, "strokeDash": [4, 2]},
         "encoding": {"x": {"field": "t", "type": "quantitative", "axis": null}, "y": {"field": "l", "type": "quantitative", "axis": null}}},
        {"data": {"values": [{"yr":1977},{"yr":1978},{"yr":1979},{"yr":1980},{"yr":1981},{"yr":1982},{"yr":1983},{"yr":1984},{"yr":1985},{"yr":1986},{"yr":1987},{"yr":1988},{"yr":1989},{"yr":1990},{"yr":1991},{"yr":1992},{"yr":1993},{"yr":1994},{"yr":1995},{"yr":1996},{"yr":1997},{"yr":1998}]},
         "mark": {"type": "rule"},
         "encoding": {"x": {"field": "yr", "type": "quantitative", "axis": null}, "y": {"datum": -0.0375, "type": "quantitative", "axis": null}, "y2": {"datum": -0.0304}}},
        {"data": {"values": [{"yv":-0.025},{"yv":-0.0125},{"yv":0},{"yv":0.0125},{"yv":0.025},{"yv":0.0375}]},
         "mark": {"type": "rule"},
         "encoding": {"y": {"field": "yv", "type": "quantitative", "axis": null}, "x": {"datum": 1976, "type": "quantitative", "axis": null}, "x2": {"datum": 1976.266}}},
        {"data": {"values": [
          {"t":1977.5,"r":0.0035},{"t":1977.75,"r":0.004},{"t":1978.0,"r":0.0165},{"t":1978.25,"r":0.014},{"t":1978.5,"r":0.011},{"t":1978.75,"r":-0.013},{"t":1979.0,"r":0.0066},{"t":1979.25,"r":0.0066},{"t":1979.5,"r":0.011},{"t":1979.75,"r":-0.007},{"t":1980.0,"r":-0.007},{"t":1980.25,"r":0},{"t":1980.5,"r":0.019},{"t":1980.75,"r":0.0024},{"t":1981.0,"r":0.0014},{"t":1981.25,"r":-0.0126},{"t":1981.5,"r":-0.008},{"t":1981.75,"r":-0.0087},{"t":1982.0,"r":0.0017},{"t":1982.25,"r":-0.008},{"t":1982.5,"r":0.025},{"t":1982.75,"r":0.011},{"t":1983.0,"r":0.0017},{"t":1983.25,"r":-0.022},{"t":1983.5,"r":-0.016},{"t":1983.75,"r":-0.008},{"t":1984.0,"r":0.012},{"t":1984.25,"r":-0.0105},{"t":1984.5,"r":0.0007},{"t":1984.75,"r":0.012},{"t":1985.0,"r":0.0014},{"t":1985.25,"r":-0.007},{"t":1985.5,"r":-0.0017},{"t":1985.75,"r":-0.0017},{"t":1986.0,"r":-0.0035},{"t":1986.25,"r":-0.006},{"t":1986.5,"r":-0.001},{"t":1986.75,"r":0.0014},{"t":1987.0,"r":0.0007},{"t":1987.25,"r":-0.006},{"t":1987.5,"r":-0.007},{"t":1987.75,"r":-0.0185},{"t":1988.0,"r":0.018},{"t":1988.25,"r":0.0024},{"t":1988.5,"r":-0.021},{"t":1988.75,"r":-0.0073},{"t":1989.0,"r":-0.0073},{"t":1989.25,"r":-0.0115},{"t":1989.5,"r":-0.0115},{"t":1989.75,"r":-0.001},{"t":1990.0,"r":-0.0003},{"t":1990.25,"r":-0.006},{"t":1990.5,"r":-0.005},{"t":1990.75,"r":0.0049},{"t":1991.0,"r":-0.001},{"t":1991.25,"r":0.0094},{"t":1991.5,"r":0.012},{"t":1991.75,"r":-0.0126},{"t":1992.0,"r":-0.012},{"t":1992.25,"r":0.004},{"t":1992.5,"r":-0.002},{"t":1992.75,"r":-0.0168},{"t":1993.0,"r":0.0031},{"t":1993.25,"r":0.007},{"t":1993.5,"r":0.0017},{"t":1993.75,"r":0.0024},{"t":1994.0,"r":-0.006},{"t":1994.25,"r":0.0094},{"t":1994.5,"r":-0.012},{"t":1994.75,"r":-0.0087},{"t":1995.0,"r":0.0147},{"t":1995.25,"r":-0.006},{"t":1995.5,"r":-0.0003},{"t":1995.75,"r":0},{"t":1996.0,"r":0.0024},{"t":1996.25,"r":0},{"t":1996.5,"r":0.0024},{"t":1996.75,"r":-0.0003},{"t":1997.0,"r":-0.0056},{"t":1997.25,"r":0.001},{"t":1997.5,"r":0.0087},{"t":1997.75,"r":-0.0175}
         ]},
         "mark": {"type": "line", "strokeWidth": 1.8},
         "encoding": {"x": {"field": "t", "type": "quantitative", "axis": null}, "y": {"field": "r", "type": "quantitative", "axis": null},
           "color": {"datum": "Res1Step", "scale": {"range": ["black"]}, "legend": {"title": null, "legendX": 154, "legendY": -23}}}}
      ]
    },
    {
      "width": 482, "height": 74,
      "resolve": {"axis": {"x": "independent", "y": "independent"}},
      "data": {"values": [
        {"t":1977.5,"v":0,"k":1},{"t":1977.75,"v":0.95,"k":1},{"t":1978.0,"v":0.3,"k":1},{"t":1978.25,"v":0.27,"k":1},{"t":1978.5,"v":0.22,"k":1},{"t":1978.75,"v":0.15,"k":1},{"t":1979.0,"v":0.08,"k":1},{"t":1979.25,"v":0.18,"k":1},{"t":1979.5,"v":0.05,"k":1},{"t":1979.75,"v":0.08,"k":1},{"t":1980.0,"v":0.01,"k":1},{"t":1980.25,"v":1.02,"k":1},{"t":1980.5,"v":0.03,"k":1},{"t":1980.75,"v":0.03,"k":1},{"t":1981.0,"v":0.22,"k":1},{"t":1981.25,"v":0.1,"k":1},{"t":1981.5,"v":0.12,"k":1},{"t":1981.75,"v":0.02,"k":1},{"t":1982.0,"v":0.1,"k":1},{"t":1982.25,"v":1.27,"k":1},{"t":1982.5,"v":0.22,"k":1},{"t":1982.75,"v":0.01,"k":1},{"t":1983.0,"v":0.78,"k":1},{"t":1983.25,"v":0.35,"k":1},{"t":1983.5,"v":0.05,"k":1},{"t":1983.75,"v":0.22,"k":1},{"t":1984.0,"v":0.17,"k":1},{"t":1984.25,"v":0.05,"k":1},{"t":1984.5,"v":0.2,"k":1},{"t":1984.75,"v":0,"k":1},{"t":1985.0,"v":0.04,"k":1},{"t":1985.25,"v":0,"k":1},{"t":1985.5,"v":0,"k":1},{"t":1985.75,"v":0.03,"k":1},{"t":1986.0,"v":0,"k":1},{"t":1986.25,"v":0,"k":1},{"t":1986.5,"v":0,"k":1},{"t":1986.75,"v":0.02,"k":1},{"t":1987.0,"v":0.06,"k":1},{"t":1987.25,"v":0.65,"k":1},{"t":1987.5,"v":0.63,"k":1},{"t":1987.75,"v":0.02,"k":1},{"t":1988.0,"v":0.75,"k":1},{"t":1988.25,"v":0.08,"k":1},{"t":1988.5,"v":0.06,"k":1},{"t":1988.75,"v":0.2,"k":1},{"t":1989.0,"v":0.2,"k":1},{"t":1989.25,"v":0.02,"k":1},{"t":1989.5,"v":0,"k":1},{"t":1989.75,"v":0.02,"k":1},{"t":1990.0,"v":0.04,"k":1},{"t":1990.25,"v":0.02,"k":1},{"t":1990.5,"v":0.04,"k":1},{"t":1990.75,"v":0,"k":1},{"t":1991.0,"v":0.25,"k":1},{"t":1991.25,"v":0.4,"k":1},{"t":1991.5,"v":0.3,"k":1},{"t":1991.75,"v":0.25,"k":1},{"t":1992.0,"v":0.02,"k":1},{"t":1992.25,"v":0,"k":1},{"t":1992.5,"v":0.5,"k":1},{"t":1992.75,"v":0.02,"k":1},{"t":1993.0,"v":0.12,"k":1},{"t":1993.25,"v":0.02,"k":1},{"t":1993.5,"v":0.03,"k":1},{"t":1993.75,"v":0.05,"k":1},{"t":1994.0,"v":0.2,"k":1},{"t":1994.25,"v":0.3,"k":1},{"t":1994.5,"v":0.18,"k":1},{"t":1994.75,"v":0.55,"k":1},{"t":1995.0,"v":0.05,"k":1},{"t":1995.25,"v":0,"k":1},{"t":1995.5,"v":0,"k":1},{"t":1995.75,"v":0.01,"k":1},{"t":1996.0,"v":0.02,"k":1},{"t":1996.25,"v":0.01,"k":1},{"t":1996.5,"v":0.01,"k":1},{"t":1996.75,"v":0.05,"k":1},{"t":1997.0,"v":0,"k":1},{"t":1997.25,"v":0.05,"k":1},{"t":1997.5,"v":0.25,"k":1},{"t":1997.75,"v":0.7,"k":1}
      ]},
      "layer": [
        {"mark": {"type": "line", "color": "black", "strokeWidth": 2},
         "encoding": {
           "x": {"field": "t", "type": "quantitative", "title": null, "scale": {"domain": [1976, 1998], "nice": false, "zero": false},
             "axis": {"orient": "bottom", "values": [1977, 1982, 1987, 1992, 1997], "format": "d", "ticks": false, "labelPadding": 9, "labelOffset": 3, "labelOverlap": false}},
           "y": {"field": "k", "type": "quantitative", "title": null, "scale": {"domain": [0, 1.55], "nice": false, "zero": false},
             "axis": {"orient": "left", "values": [0.5, 1, 1.5], "ticks": false, "labelPadding": 3, "labelOverlap": false, "labelExpr": "replace(toString(datum.value), '0.', '.')"}},
           "strokeDash": {"datum": "5%", "scale": {"range": [[14, 8]]}, "legend": {"title": null, "legendX": 105, "legendY": -14, "labelOffset": 28}}}},
        {"data": {"values": [{"yr":1977},{"yr":1978},{"yr":1979},{"yr":1980},{"yr":1981},{"yr":1982},{"yr":1983},{"yr":1984},{"yr":1985},{"yr":1986},{"yr":1987},{"yr":1988},{"yr":1989},{"yr":1990},{"yr":1991},{"yr":1992},{"yr":1993},{"yr":1994},{"yr":1995},{"yr":1996},{"yr":1997},{"yr":1998}]},
         "mark": {"type": "rule"},
         "encoding": {"x": {"field": "yr", "type": "quantitative", "axis": null}, "y": {"datum": 0, "type": "quantitative", "axis": null}, "y2": {"datum": 0.147}}},
        {"data": {"values": [{"yv":0.25},{"yv":0.5},{"yv":0.75},{"yv":1},{"yv":1.25},{"yv":1.5}]},
         "mark": {"type": "rule"},
         "encoding": {"y": {"field": "yv", "type": "quantitative", "axis": null}, "x": {"datum": 1976, "type": "quantitative", "axis": null}, "x2": {"datum": 1976.274}}},
        {"mark": {"type": "line", "strokeWidth": 1.8},
         "encoding": {"x": {"field": "t", "type": "quantitative", "axis": null}, "y": {"field": "v", "type": "quantitative", "axis": null},
           "color": {"datum": "1up CHOWs", "scale": {"range": ["black"]}, "legend": {"title": null, "legendX": 186, "legendY": -14}}}}
      ]
    },
    {
      "width": 497, "height": 75,
      "resolve": {"axis": {"x": "independent", "y": "independent"}},
      "data": {"values": [
        {"t":1977.5,"v":0.31,"k":1},{"t":1977.75,"v":0.35,"k":1},{"t":1978.0,"v":0.27,"k":1},{"t":1978.5,"v":0.27,"k":1},{"t":1978.75,"v":0.27,"k":1},{"t":1979.25,"v":0.3,"k":1},{"t":1979.75,"v":0.33,"k":1},{"t":1980.25,"v":0.36,"k":1},{"t":1980.5,"v":0.31,"k":1},{"t":1980.75,"v":0.33,"k":1},{"t":1981.25,"v":0.35,"k":1},{"t":1981.75,"v":0.36,"k":1},{"t":1982.0,"v":0.38,"k":1},{"t":1982.25,"v":0.39,"k":1},{"t":1982.5,"v":0.32,"k":1},{"t":1982.75,"v":0.31,"k":1},{"t":1983.0,"v":0.33,"k":1},{"t":1983.25,"v":0.28,"k":1},{"t":1983.75,"v":0.29,"k":1},{"t":1984.5,"v":0.29,"k":1},{"t":1985.0,"v":0.29,"k":1},{"t":1985.5,"v":0.32,"k":1},{"t":1986.0,"v":0.35,"k":1},{"t":1986.75,"v":0.38,"k":1},{"t":1987.25,"v":0.41,"k":1},{"t":1987.5,"v":0.41,"k":1},{"t":1988.0,"v":0.35,"k":1},{"t":1988.25,"v":0.35,"k":1},{"t":1988.5,"v":0.3,"k":1},{"t":1989.0,"v":0.3,"k":1},{"t":1989.75,"v":0.31,"k":1},{"t":1990.25,"v":0.33,"k":1},{"t":1990.75,"v":0.36,"k":1},{"t":1991.5,"v":0.33,"k":1},{"t":1991.75,"v":0.3,"k":1},{"t":1992.25,"v":0.31,"k":1},{"t":1992.5,"v":0.27,"k":1},{"t":1992.75,"v":0.29,"k":1},{"t":1993.25,"v":0.29,"k":1},{"t":1994.0,"v":0.33,"k":1},{"t":1994.5,"v":0.29,"k":1},{"t":1994.75,"v":0.28,"k":1},{"t":1995.0,"v":0.2,"k":1},{"t":1995.25,"v":0.2,"k":1},{"t":1995.75,"v":0.25,"k":1},{"t":1996.0,"v":0.26,"k":1},{"t":1996.5,"v":0.3,"k":1},{"t":1997.0,"v":0.36,"k":1},{"t":1997.25,"v":0.46,"k":1},{"t":1997.5,"v":0.58,"k":1},{"t":1997.75,"v":0.69,"k":1}
      ]},
      "layer": [
        {"mark": {"type": "line", "color": "black", "strokeWidth": 2},
         "encoding": {
           "x": {"field": "t", "type": "quantitative", "title": null, "scale": {"domain": [1976, 1998], "nice": false, "zero": false},
             "axis": {"orient": "bottom", "values": [1977, 1982, 1987, 1992, 1997], "format": "d", "ticks": false, "labelPadding": 9, "labelOffset": 3, "labelOverlap": false}},
           "y": {"field": "k", "type": "quantitative", "title": null, "scale": {"domain": [0.11, 1.01], "nice": false, "zero": false},
             "axis": {"orient": "left", "values": [0.25, 0.5, 0.75, 1], "ticks": false, "labelPadding": 3, "labelOverlap": false, "labelExpr": "replace(toString(datum.value), '0.', '.')"}},
           "strokeDash": {"datum": "5%", "scale": {"range": [[14, 8]]}, "legend": {"title": null, "legendX": 33, "legendY": 4, "labelOffset": 28}}}},
        {"data": {"values": [{"yr":1977},{"yr":1978},{"yr":1979},{"yr":1980},{"yr":1981},{"yr":1982},{"yr":1983},{"yr":1984},{"yr":1985},{"yr":1986},{"yr":1987},{"yr":1988},{"yr":1989},{"yr":1990},{"yr":1991},{"yr":1992},{"yr":1993},{"yr":1994},{"yr":1995},{"yr":1996},{"yr":1997},{"yr":1998}]},
         "mark": {"type": "rule"},
         "encoding": {"x": {"field": "yr", "type": "quantitative", "axis": null}, "y": {"datum": 0.11, "type": "quantitative", "axis": null}, "y2": {"datum": 0.194}}},
        {"data": {"values": [{"yv":0.25},{"yv":0.375},{"yv":0.5},{"yv":0.625},{"yv":0.75},{"yv":0.875},{"yv":1}]},
         "mark": {"type": "rule"},
         "encoding": {"y": {"field": "yv", "type": "quantitative", "axis": null}, "x": {"datum": 1976, "type": "quantitative", "axis": null}, "x2": {"datum": 1976.266}}},
        {"mark": {"type": "line", "strokeWidth": 1.8},
         "encoding": {"x": {"field": "t", "type": "quantitative", "axis": null}, "y": {"field": "v", "type": "quantitative", "axis": null},
           "color": {"datum": "Ndn CHOWs", "scale": {"range": ["black"]}, "legend": {"title": null, "legendX": 125, "legendY": 4}}}}
      ]
    },
    {
      "width": 482, "height": 75,
      "resolve": {"axis": {"x": "independent", "y": "independent"}},
      "data": {"values": [
        {"t":1977.5,"v":0.03,"k":1},{"t":1977.75,"v":0.55,"k":1},{"t":1978.0,"v":0.56,"k":1},{"t":1978.25,"v":0.56,"k":1},{"t":1978.75,"v":0.53,"k":1},{"t":1979.0,"v":0.47,"k":1},{"t":1979.25,"v":0.45,"k":1},{"t":1979.75,"v":0.41,"k":1},{"t":1980.0,"v":0.37,"k":1},{"t":1980.25,"v":0.48,"k":1},{"t":1980.5,"v":0.44,"k":1},{"t":1981.0,"v":0.42,"k":1},{"t":1981.5,"v":0.39,"k":1},{"t":1982.0,"v":0.37,"k":1},{"t":1982.25,"v":0.46,"k":1},{"t":1982.75,"v":0.45,"k":1},{"t":1983.0,"v":0.43,"k":1},{"t":1983.25,"v":0.48,"k":1},{"t":1983.5,"v":0.48,"k":1},{"t":1984.25,"v":0.46,"k":1},{"t":1985.25,"v":0.42,"k":1},{"t":1986.25,"v":0.38,"k":1},{"t":1987.25,"v":0.35,"k":1},{"t":1987.5,"v":0.36,"k":1},{"t":1987.75,"v":0.39,"k":1},{"t":1988.0,"v":0.37,"k":1},{"t":1988.25,"v":0.4,"k":1},{"t":1988.75,"v":0.38,"k":1},{"t":1989.5,"v":0.37,"k":1},{"t":1990.5,"v":0.35,"k":1},{"t":1991.0,"v":0.34,"k":1},{"t":1991.5,"v":0.35,"k":1},{"t":1992.75,"v":0.33,"k":1},{"t":1994.0,"v":0.32,"k":1},{"t":1994.75,"v":0.325,"k":1},{"t":1996.0,"v":0.31,"k":1},{"t":1997.25,"v":0.29,"k":1},{"t":1997.5,"v":0.29,"k":1},{"t":1997.75,"v":0.31,"k":1}
      ]},
      "layer": [
        {"mark": {"type": "line", "color": "black", "strokeWidth": 2},
         "encoding": {
           "x": {"field": "t", "type": "quantitative", "title": null, "scale": {"domain": [1976, 1998], "nice": false, "zero": false},
             "axis": {"orient": "bottom", "values": [1977, 1982, 1987, 1992, 1997], "format": "d", "ticks": false, "labelPadding": 9, "labelOffset": 3, "labelOverlap": false}},
           "y": {"field": "k", "type": "quantitative", "title": null, "scale": {"domain": [0, 1.03], "nice": false, "zero": false},
             "axis": {"orient": "left", "values": [0.5, 1], "ticks": false, "labelPadding": 3, "labelOverlap": false, "labelExpr": "replace(toString(datum.value), '0.', '.')"}},
           "strokeDash": {"datum": "5%", "scale": {"range": [[14, 8]]}, "legend": {"title": null, "legendX": 24, "legendY": 3, "labelOffset": 28}}}},
        {"data": {"values": [{"yr":1977},{"yr":1978},{"yr":1979},{"yr":1980},{"yr":1981},{"yr":1982},{"yr":1983},{"yr":1984},{"yr":1985},{"yr":1986},{"yr":1987},{"yr":1988},{"yr":1989},{"yr":1990},{"yr":1991},{"yr":1992},{"yr":1993},{"yr":1994},{"yr":1995},{"yr":1996},{"yr":1997},{"yr":1998}]},
         "mark": {"type": "rule"},
         "encoding": {"x": {"field": "yr", "type": "quantitative", "axis": null}, "y": {"datum": 0, "type": "quantitative", "axis": null}, "y2": {"datum": 0.096}}},
        {"data": {"values": [{"yv":0.25},{"yv":0.5},{"yv":0.75},{"yv":1}]},
         "mark": {"type": "rule"},
         "encoding": {"y": {"field": "yv", "type": "quantitative", "axis": null}, "x": {"datum": 1976, "type": "quantitative", "axis": null}, "x2": {"datum": 1976.274}}},
        {"mark": {"type": "line", "strokeWidth": 1.8},
         "encoding": {"x": {"field": "t", "type": "quantitative", "axis": null}, "y": {"field": "v", "type": "quantitative", "axis": null},
           "color": {"datum": "Nup CHOWs", "scale": {"range": ["black"]}, "legend": {"title": null, "legendX": 112, "legendY": 3}}}}
      ]
    }
  ]
}
